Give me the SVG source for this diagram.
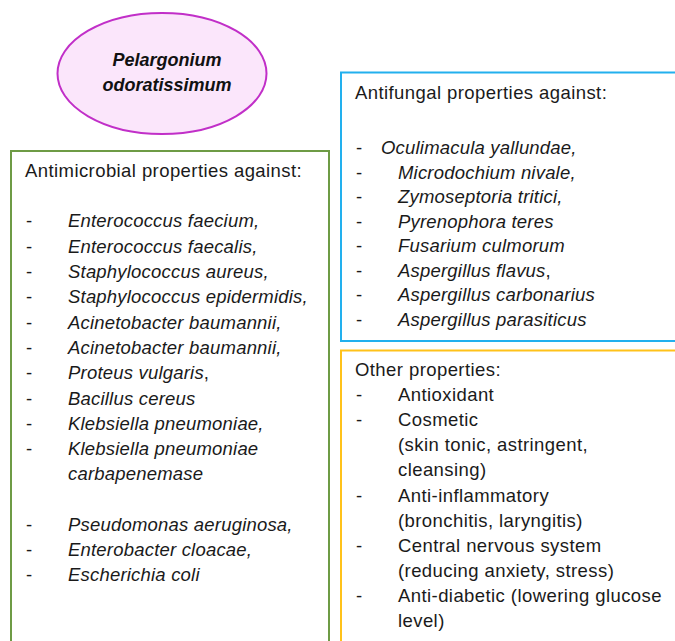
<svg xmlns="http://www.w3.org/2000/svg" width="675" height="641" viewBox="0 0 675 641">
<style>
.t{font-family:"Liberation Sans",Arial,sans-serif;font-size:18.5px;letter-spacing:0.42px;fill:#1a1a1a}
.i{font-style:italic;letter-spacing:0.2px}
.title{font-family:"Liberation Sans",Arial,sans-serif;font-size:18px;font-weight:bold;font-style:italic;fill:#111;text-anchor:middle}
</style>
<rect width="675" height="641" fill="#fff"/>
<g id="plant">
<ellipse cx="162" cy="73.5" rx="104.5" ry="60.5" fill="#fbe6fb" stroke="#c12fc8" stroke-width="2"/>
<text class="title" x="167" y="65.5">Pelargonium</text>
<text class="title" x="167" y="90.5">odoratissimum</text>
</g>
<g id="antimicrobial">
<rect x="11" y="151" width="318" height="500" fill="#fff" stroke="#6e9b45" stroke-width="2"/>
<g class="t">
<text x="25" y="177">Antimicrobial properties against:</text>
<text x="26" y="227">-</text><text class="i" x="68" y="227">Enterococcus faecium,</text>
<text x="26" y="252.5">-</text><text class="i" x="68" y="252.5">Enterococcus faecalis,</text>
<text x="26" y="278">-</text><text class="i" x="68" y="278">Staphylococcus aureus,</text>
<text x="26" y="303">-</text><text class="i" x="68" y="303">Staphylococcus epidermidis,</text>
<text x="26" y="328.5">-</text><text class="i" x="68" y="328.5">Acinetobacter baumannii,</text>
<text x="26" y="354">-</text><text class="i" x="68" y="354">Acinetobacter baumannii,</text>
<text x="26" y="379">-</text><text x="68" y="379"><tspan class="i">Proteus vulgaris</tspan>,</text>
<text x="26" y="404.5">-</text><text class="i" x="68" y="404.5">Bacillus cereus</text>
<text x="26" y="430">-</text><text class="i" x="68" y="430">Klebsiella pneumoniae,</text>
<text x="26" y="455">-</text><text class="i" x="68" y="455">Klebsiella pneumoniae</text>
<text class="i" x="68" y="480">carbapenemase</text>
<text x="26" y="531">-</text><text class="i" x="68" y="531">Pseudomonas aeruginosa,</text>
<text x="26" y="556">-</text><text class="i" x="68" y="556">Enterobacter cloacae,</text>
<text x="26" y="581">-</text><text class="i" x="68" y="581">Escherichia coli</text>
</g>
</g>
<g id="antifungal">
<rect x="341" y="72.5" width="340" height="268.5" fill="#fff" stroke="#22b0ee" stroke-width="2"/>
<g class="t">
<text x="355" y="99">Antifungal properties against:</text>
<text x="356" y="154">-</text><text class="i" x="381" y="154">Oculimacula yallundae,</text>
<text x="356" y="178.5">-</text><text class="i" x="398" y="178.5">Microdochium nivale,</text>
<text x="356" y="203">-</text><text class="i" x="398" y="203">Zymoseptoria tritici,</text>
<text x="356" y="227.5">-</text><text class="i" x="398" y="227.5">Pyrenophora teres</text>
<text x="356" y="252">-</text><text class="i" x="398" y="252">Fusarium culmorum</text>
<text x="356" y="276.5">-</text><text x="398" y="276.5"><tspan class="i">Aspergillus flavus</tspan>,</text>
<text x="356" y="301">-</text><text class="i" x="398" y="301">Aspergillus carbonarius</text>
<text x="356" y="325.5">-</text><text class="i" x="398" y="325.5">Aspergillus parasiticus</text>
</g>
</g>
<g id="other">
<rect x="341" y="350.5" width="340" height="300" fill="#fff" stroke="#ffc21a" stroke-width="2"/>
<g class="t">
<text x="355" y="376">Other properties:</text>
<text x="356" y="401">-</text><text x="398" y="401">Antioxidant</text>
<text x="356" y="426">-</text><text x="398" y="426">Cosmetic</text>
<text x="398" y="451">(skin tonic, astringent,</text>
<text x="398" y="476">cleansing)</text>
<text x="356" y="501.5">-</text><text x="398" y="501.5">Anti-inflammatory</text>
<text x="398" y="526.5">(bronchitis, laryngitis)</text>
<text x="356" y="552">-</text><text x="398" y="552">Central nervous system</text>
<text x="398" y="577">(reducing anxiety, stress)</text>
<text x="356" y="602">-</text><text x="398" y="602">Anti-diabetic (lowering glucose</text>
<text x="398" y="627">level)</text>
</g>
</g>
<g id="connectors"/>
</svg>
